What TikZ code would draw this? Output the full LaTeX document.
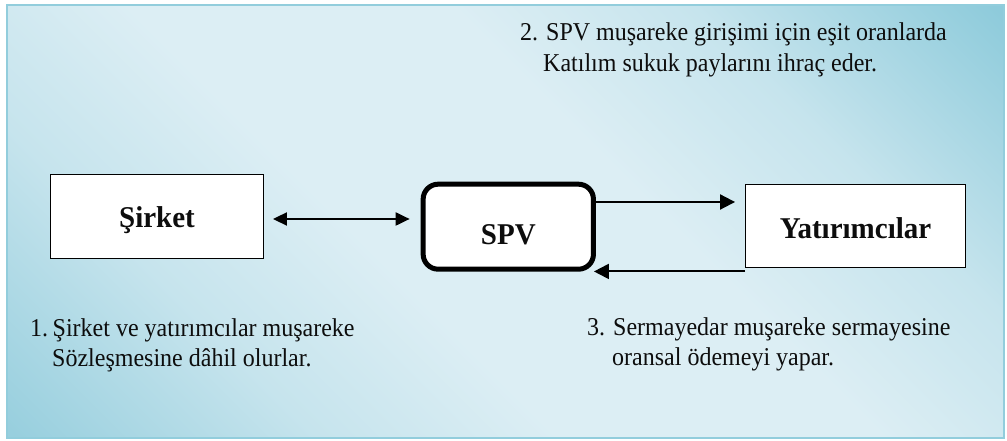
\documentclass[tikz,border=0pt]{standalone}
\usepackage{fontspec}
\setmainfont{Liberation Serif}
\usetikzlibrary{arrows.meta,calc}

\definecolor{framec}{HTML}{92CDDC}
\definecolor{bgdarktr}{HTML}{8ECBDB}
\definecolor{bgdarkbl}{HTML}{98CFDE}
\definecolor{bgmid}{HTML}{C6E4ED}
\definecolor{bglight}{HTML}{DCEEF4}
\definecolor{inktext}{HTML}{0D0D0D}

% diagonal band: light along one diagonal, deeper blue towards the other two corners
\pgfdeclarehorizontalshading{panelshade}{100bp}{%
  color(0bp)=(bgdarkbl); color(15bp)=(bgdarkbl); color(30bp)=(bgmid);
  color(42bp)=(bglight); color(58bp)=(bglight); color(70bp)=(bgmid);
  color(85bp)=(bgdarktr); color(100bp)=(bgdarktr)}

% slightly taller glyphs for the captions and box titles
\newcommand\notetext[1]{\scalebox{1}[1.07]{#1}}
\newcommand\boxtext[1]{\scalebox{1}[1.04]{#1}}

\tikzset{
  plainbox/.style={draw=black, line width=1.4pt, fill=white, inner sep=0pt,
    font=\fontsize{29}{34}\selectfont\bfseries, text=inktext, text depth=0pt},
  spvbox/.style={draw=black, line width=5pt, fill=white, rounded corners=15pt,
    inner sep=0pt, font=\fontsize{29}{34}\selectfont\bfseries, text=inktext,
    text depth=0pt, text height=35pt},
  note/.style={anchor=base west, inner sep=0pt,
    font=\fontsize{24}{31}\selectfont, text=inktext},
  arr/.style={line width=2pt, -{Triangle[length=15pt,width=15pt]}},
  dblarr/.style={line width=2pt,
    {Triangle[length=14pt,width=13pt]}-{Triangle[length=14pt,width=13pt]}}
}

\begin{document}
\begin{tikzpicture}[x=1pt,y=1pt]
  \useasboundingbox (0,0) rectangle (1007,441);
  \fill[white] (0,0) rectangle (1007,441);

  % background panel
  \shadedraw[draw=framec, line width=2.5pt, shading=panelshade, shading angle=45]
    (7,3) rectangle (1004,436);

  % parties
  \node[plainbox, minimum width=212.5pt, minimum height=83.5pt, text height=21.6pt]
    (sirket) at (157,224.5) {\boxtext{Şirket}};
  \node[spvbox, minimum width=170.3pt, minimum height=85pt]
    (spv) at (508.3,214.3) {\boxtext{SPV}};
  \node[plainbox, minimum width=219.5pt, minimum height=82.5pt, text height=24.6pt]
    (yat) at (855.5,215) {\boxtext{Yatırımcılar}};

  % flows
  \draw[dblarr] ($(sirket.east)+(9,-2.5)$) -- ($(spv.west |- sirket.east)+(-11,-2.5)$);
  \draw[arr] ($(spv.east)+(0,24.7)$) -- ($(spv.east -| yat.west)+(-10,24.7)$);
  \draw[arr] ($(yat.south west)+(0,-3.5)$) -- ($(yat.south west -| spv.east)+(-2,-3.5)$);

  % step descriptions
  \node[note] (s2a) at (520,400.3) {\notetext{2. SPV muşareke girişimi için eşit oranlarda}};
  \node[note] (s2b) at (543,369.3) {\notetext{Katılım sukuk paylarını ihraç eder.}};
  \node[note] (s1a) at (30,104.5) {\notetext{1.\hspace{4.5pt}Şirket ve yatırımcılar muşareke}};
  \node[note] (s1b) at (52,74.3) {\notetext{Sözleşmesine dâhil olurlar.}};
  \node[note] (s3a) at (587,105) {\notetext{3. Sermayedar muşareke sermayesine}};
  \node[note] (s3b) at (612,75) {\notetext{oransal ödemeyi yapar.}};
\end{tikzpicture}
\end{document}
